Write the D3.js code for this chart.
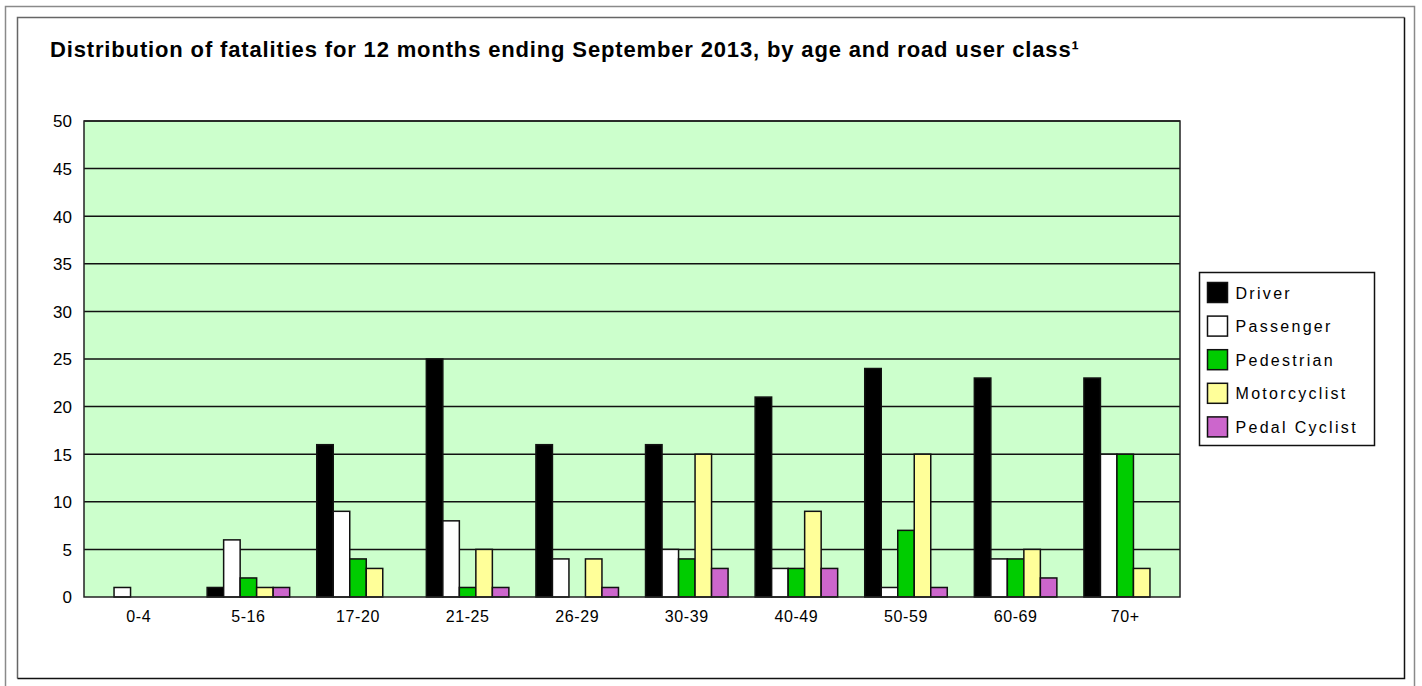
<!DOCTYPE html>
<html lang="en">
<head>
    <meta charset="UTF-8">
    <title>fatalities by age</title>
    <script src="https://cdn.jsdelivr.net/npm/d3@7/dist/d3.min.js"></script>
    <style>
        body { margin: 0; background: #fff; }
        text { font-family: "Liberation Sans", Arial, sans-serif; fill: #000; }
    </style>
</head>
<body>
    <script>
        // data
        var ages = ["0-4", "5-16", "17-20", "21-25", "26-29", "30-39", "40-49", "50-59", "60-69", "70+"]
        var classes = ["Driver", "Passenger", "Pedestrian", "Motorcyclist", "Pedal Cyclist"]
        var driver       = [0, 1, 16, 25, 16, 16, 21, 24, 23, 23]
        var passenger    = [1, 6, 9, 8, 4, 5, 3, 1, 4, 15]
        var pedestrian   = [0, 2, 4, 1, 0, 4, 3, 7, 4, 15]
        var motorcyclist = [0, 1, 3, 5, 4, 15, 9, 15, 5, 3]
        var pedalCyclist = [0, 1, 0, 1, 1, 3, 3, 1, 2, 0]
        var yTicks = [0, 5, 10, 15, 20, 25, 30, 35, 40, 45, 50]
        var colors = ["#000000", "#ffffff", "#00cc00", "#ffff99", "#cc66cc"]

        var series = [driver, passenger, pedestrian, motorcyclist, pedalCyclist]

        var svg = d3.select("body")
            .append("svg")
            .attr("width", 1422)
            .attr("height", 686)

        // frames
        var frame = svg.append("g")
        frame.append("path").attr("d", "M5.5,686 V6.5 H1414.5 V686")
            .style("fill", "none").style("stroke", "#8a8a8a").style("stroke-width", "1.5px")
        frame.append("path").attr("d", "M17.5,678.5 V17.5 H1404.5")
            .style("fill", "none").style("stroke", "#666").style("stroke-width", "1.5px")
        frame.append("path").attr("d", "M1404.5,17.5 V678.5 H17.5")
            .style("fill", "none").style("stroke", "#111").style("stroke-width", "1.5px")

        svg.append("text")
            .attr("x", 50).attr("y", 57)
            .style("font-size", "22px").style("font-weight", "bold").style("letter-spacing", "0.85px")
            .text("Distribution of fatalities for 12 months ending September 2013, by age and road user class\u00b9")

        var pLeft = 84, pRight = 1180, pTop = 121, pBottom = 597

        var x = d3.scaleBand().domain(ages).range([pLeft, pRight]).paddingInner(0).paddingOuter(0)
        var xs = d3.scaleBand().domain(classes).range([0, x.bandwidth()]).paddingOuter(0.82).paddingInner(0)
        var y = d3.scaleLinear().domain([0, 50]).range([pBottom, pTop])

        svg.append("rect")
            .attr("x", pLeft).attr("y", pTop)
            .attr("width", pRight - pLeft).attr("height", pBottom - pTop)
            .style("fill", "#ccffcc")

        // gridlines
        svg.append("g").selectAll("line")
            .data(yTicks.slice(1))
            .enter().append("line")
            .attr("x1", pLeft).attr("x2", pRight)
            .attr("y1", function(d) { return y(d) }).attr("y2", function(d) { return y(d) })
            .style("stroke", "#111").style("stroke-width", "1.5px")

        // bars
        var groups = svg.append("g").selectAll("g")
            .data(ages)
            .enter().append("g")
            .attr("transform", function(d) { return "translate(" + x(d) + ",0)" })

        groups.selectAll("rect")
            .data(function(d, i) {
                return classes.map(function(c, k) { return { cls: c, k: k, v: series[k][i] } })
            })
            .enter().filter(function(d) { return d.v > 0 }).append("rect")
            .attr("x", function(d) { return xs(d.cls) })
            .attr("y", function(d) { return y(d.v) })
            .attr("width", xs.bandwidth())
            .attr("height", function(d) { return y(0) - y(d.v) })
            .style("fill", function(d) { return colors[d.k] })
            .style("stroke", "#111").style("stroke-width", "1.5px")

        // plot border
        svg.append("rect")
            .attr("x", pLeft).attr("y", pTop)
            .attr("width", pRight - pLeft).attr("height", pBottom - pTop)
            .style("fill", "none").style("stroke", "#222").style("stroke-width", "1.5px")

        // axes
        var yAxis = d3.axisLeft(y).tickValues(yTicks).tickSize(0).tickPadding(12)
        svg.append("g").attr("transform", "translate(" + pLeft + ",0)").call(yAxis)
            .call(function(g) { g.select(".domain").remove() })
            .selectAll("text").style("font-size", "17px").attr("dy", "0.35em")

        var xAxis = d3.axisBottom(x).tickSize(0).tickPadding(14)
        svg.append("g").attr("transform", "translate(0," + pBottom + ")").call(xAxis)
            .call(function(g) { g.select(".domain").remove() })
            .selectAll("text").style("font-size", "16px").style("letter-spacing", "0.6px")

        // legend
        var legend = svg.append("g").attr("transform", "translate(1199.5,272.5)")
        legend.append("rect").attr("width", 175).attr("height", 173)
            .style("fill", "#fff").style("stroke", "#111").style("stroke-width", "1.5px")
        var items = legend.selectAll("g.item")
            .data(classes)
            .enter().append("g").attr("class", "item")
            .attr("transform", function(d, i) { return "translate(8," + (10 + i * 33.6) + ")" })
        items.append("rect").attr("width", 20).attr("height", 20)
            .style("fill", function(d, i) { return colors[i] })
            .style("stroke", "#111").style("stroke-width", "1.5px")
        items.append("text").attr("x", 28).attr("y", 16)
            .style("font-size", "16px").style("letter-spacing", "2.3px")
            .text(function(d) { return d })
    </script>
</body>
</html>
